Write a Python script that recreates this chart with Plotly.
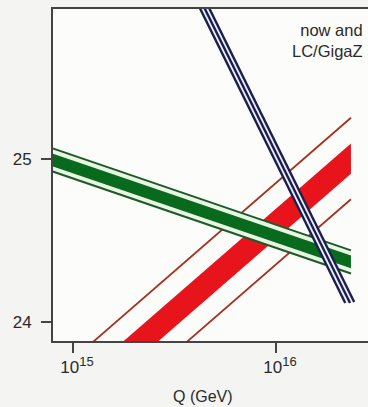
import numpy as np
import plotly.graph_objects as go

# ---- data (log10 Q in GeV, inverse coupling values) ----
# green band: [start, end]
green_logq = [14.90, 16.369]
green_band_hi = [25.033, 24.407]
green_band_lo = [24.955, 24.329]
green_line_hi = [25.065, 24.439]
green_line_lo = [24.923, 24.297]

# red band
red_logq = [14.90, 16.369]
red_band_hi = [23.504, 25.095]
red_band_lo = [23.318, 24.909]
red_line_hi = [23.662, 25.253]
red_line_lo = [23.162, 24.753]

# blue (three lines)
blue_left_logq = [15.60, 16.341]
blue_left_val = [25.988, 24.116]
blue_mid_logq = [15.60, 16.3645]
blue_mid_val = [26.046, 24.116]
blue_right_logq = [15.60, 16.385]
blue_right_val = [26.104, 24.122]

x_ticks = [1e15, 1e16]
x_ticktext = ["10<sup><span style='font-size:13px'>15</span></sup>",
              "10<sup><span style='font-size:13px'>16</span></sup>"]
y_ticks = [24, 25]

FONT = "Liberation Sans, Arial, sans-serif"
TXT = "#2a2a2a"


def q(v):
    return [10 ** a for a in v]


def band(xs, hi, lo, color, name):
    return go.Scatter(
        x=q(xs) + q(xs[::-1]), y=list(hi) + list(lo[::-1]),
        fill="toself", fillcolor=color, mode="lines",
        line=dict(width=0, color=color), hoverinfo="skip", name=name,
        showlegend=False)


def line(xs, ys, color, width, name):
    return go.Scatter(x=q(xs), y=ys, mode="lines",
                      line=dict(color=color, width=width),
                      hoverinfo="skip", name=name, showlegend=False)


fig = go.Figure()

# red
fig.add_trace(band(red_logq, red_band_hi, red_band_lo, "#e8141c", "red band"))
fig.add_trace(line(red_logq, red_line_hi, "#a6321f", 1.8, "red hi"))
fig.add_trace(line(red_logq, red_line_lo, "#a6321f", 1.8, "red lo"))

# green
fig.add_trace(band(green_logq, green_line_hi, green_line_lo, "#eaf6e4", "green light"))
fig.add_trace(band(green_logq, green_band_hi, green_band_lo, "#086a1c", "green band"))
fig.add_trace(line(green_logq, green_line_hi, "#1d5a28", 2, "green hi"))
fig.add_trace(line(green_logq, green_line_lo, "#1d5a28", 2, "green lo"))

# blue
fig.add_trace(go.Scatter(
    x=q(blue_left_logq) + q(blue_right_logq[::-1]),
    y=blue_left_val + blue_right_val[::-1],
    fill="toself", fillcolor="#eef0fa", mode="lines",
    line=dict(width=0, color="#eef0fa"), hoverinfo="skip", showlegend=False))
fig.add_trace(line(blue_left_logq, blue_left_val, "#1b1e4e", 2.4, "blue l"))
fig.add_trace(line(blue_mid_logq, blue_mid_val, "#1b1e4e", 2.4, "blue m"))
fig.add_trace(line(blue_right_logq, blue_right_val, "#1b1e4e", 2.4, "blue r"))

fig.update_layout(
    width=368, height=407, autosize=False,
    margin=dict(l=53, r=0, t=9, b=66, pad=0),
    paper_bgcolor="#f4f4f2", plot_bgcolor="#fcfcfb",
    font=dict(family=FONT, color=TXT),
    xaxis=dict(type="log", range=[14.9015, 16.453], tickmode="array",
               tickvals=x_ticks, ticktext=x_ticktext, ticks="outside",
               ticklen=10, tickwidth=1.5, tickcolor="#444444",
               showline=True, linecolor="#444444", linewidth=2, mirror=True,
               showgrid=False, zeroline=False, ticklabelshift=4,
               tickfont=dict(size=17, family=FONT, color=TXT)),
    yaxis=dict(range=[23.883, 25.920], tickmode="array", tickvals=y_ticks,
               ticks="outside", ticklen=10, tickwidth=1.5,
               tickcolor="#444444", showline=True, linecolor="#444444",
               linewidth=2, mirror=False, showgrid=False, zeroline=False,
               ticklabelstandoff=6,
               tickfont=dict(size=17, family=FONT, color=TXT)),
    annotations=[
        dict(text="now and<br>LC/GigaZ", xref="paper", yref="paper",
             x=0.99, y=0.97, xanchor="right", yanchor="top",
             align="right", showarrow=False,
             font=dict(size=16.5, family=FONT, color=TXT)),
        dict(text="Q (GeV)", xref="paper", yref="paper",
             x=0.476, y=-0.166, xanchor="center", yanchor="middle",
             showarrow=False, font=dict(size=16, family=FONT, color=TXT)),
    ],
)

fig.write_html("out.html")
